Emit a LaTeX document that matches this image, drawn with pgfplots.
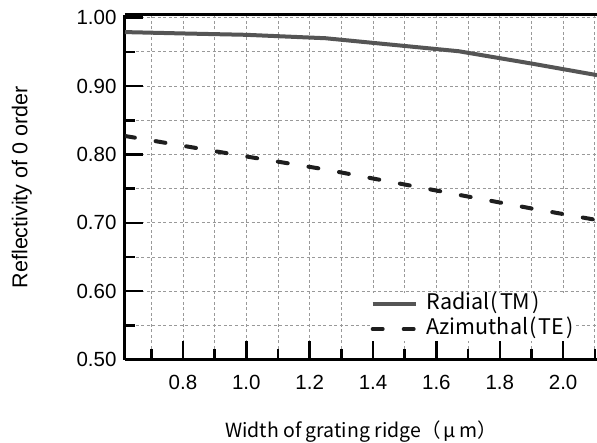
\documentclass[border=0pt]{standalone}
\usepackage{fontspec}
\setmainfont{Liberation Sans}
\newfontfamily\jp{Noto Sans CJK JP}
\usepackage{pgfplots}
\pgfplotsset{compat=1.18}
\definecolor{radial}{HTML}{555555}
\definecolor{azim}{HTML}{1E1E1E}

\begin{document}
\begin{tikzpicture}
\useasboundingbox (-125bp,-83.5bp) rectangle (472bp,359.5bp);
\begin{axis}[
    scale only axis,
    width=472bp, height=344.5bp,
    xmin=0.617, xmax=2.107,
    ymin=0.5, ymax=1.004,
    axis x line=box, axis y line=left,
    axis line style={-, line width=3bp},
    xtick pos=left, ytick pos=left,
    tick align=inside,
    xtick={0.8,1.0,1.2,1.4,1.6,1.8,2.0},
    minor xtick={0.7,0.9,1.1,1.3,1.5,1.7,1.9,2.1},
    ytick={0.5,0.6,0.7,0.8,0.9,1.0},
    minor ytick={0.55,0.65,0.75,0.85,0.95},
    major tick length=18bp, minor tick length=10.5bp,
    tick style={black, line width=2.5bp},
    grid=both,
    major grid style={gray!80, line width=0.9bp, dash pattern=on 3bp off 2.5bp},
    minor grid style={gray!80, line width=0.9bp, dash pattern=on 3bp off 2.5bp},
    /pgf/number format/assume math mode=true,
    tick label style={font=\fontsize{20.5bp}{23bp}\selectfont},
    xticklabel style={yshift=-12bp, /pgf/number format/.cd, fixed, fixed zerofill, precision=1},
    yticklabel style={xshift=-5bp, /pgf/number format/.cd, fixed, fixed zerofill, precision=2},
    xlabel={\jp Width of grating ridge（\,μ\,m）},
    xlabel style={at={(axis description cs:0.5,-0.226)}, anchor=base,
      font=\fontsize{19.5bp}{22bp}\selectfont},
    ylabel={Reflectivity of 0 order},
    ylabel style={at={(axis description cs:-0.197,0.5)}, anchor=south, inner sep=0pt,
      font=\fontsize{21.5bp}{24bp}\selectfont},
    legend style={draw=none, fill=white, at={(axis description cs:0.518,0.195)},
      anchor=north west, font=\jp\fontsize{21.5bp}{24bp}\selectfont,
      row sep=4bp, column sep=8bp, inner sep=1bp,
      nodes={inner sep=1bp, text height=15bp, text depth=4bp}},
    legend cell align=left,
    legend image code/.code={\draw[#1] (0bp,0bp) -- (43bp,0bp);},
]
\addplot[radial, line width=4bp, mark=none] coordinates {
  (0.617,0.979) (0.8,0.977) (1.0,0.975) (1.25,0.970)
  (1.67,0.951) (1.9,0.933) (2.107,0.916)
};
\addplot[azim, line width=4bp, line cap=round, dash pattern=on 10bp off 21bp, mark=none] coordinates {
  (0.617,0.827) (1.0,0.797) (1.25,0.778)
  (1.67,0.741) (1.9,0.721) (2.107,0.704)
};
\legend{Radial\kern1bp(\kern2bp TM\kern2bp), Azimuthal\kern1bp(\kern2bp TE\kern2bp)}
\end{axis}
\end{tikzpicture}
\end{document}
